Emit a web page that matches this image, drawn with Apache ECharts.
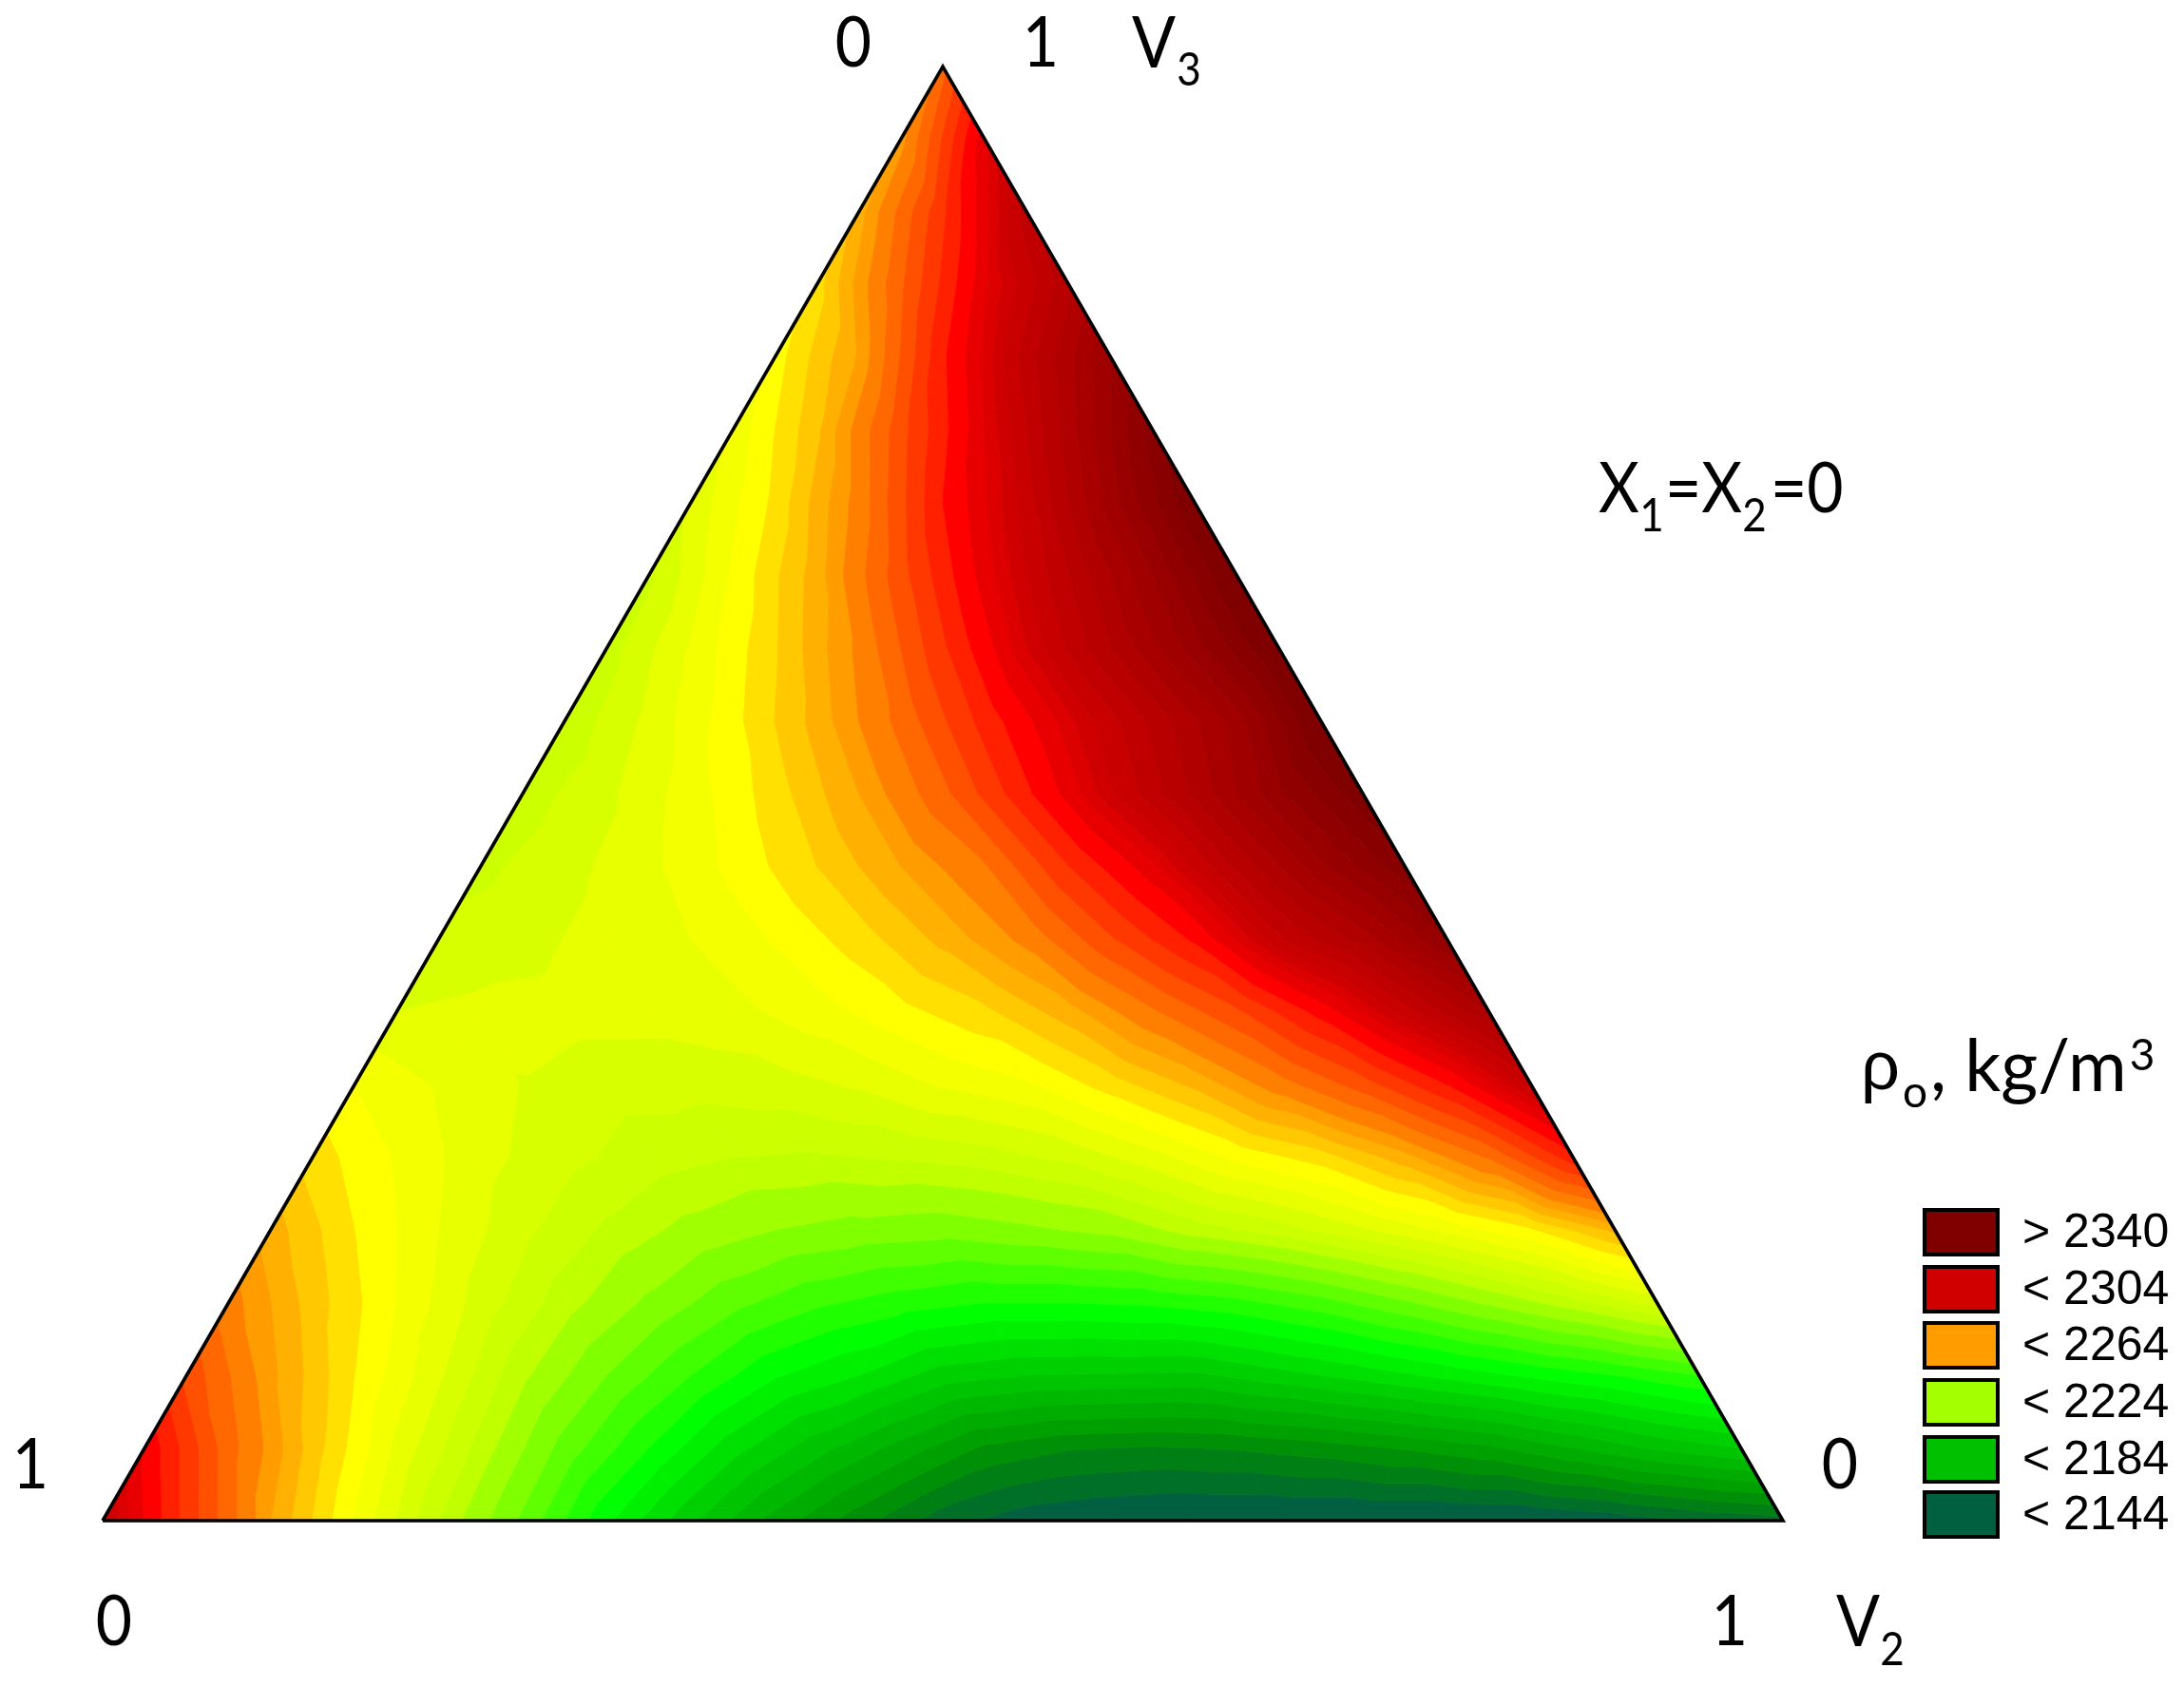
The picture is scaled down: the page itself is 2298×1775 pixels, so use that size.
<!DOCTYPE html>
<html>
<head>
<meta charset="utf-8">
<style>html,body{margin:0;padding:0;background:#fff}#c{width:2298px;height:1775px}</style>
<script src="https://cdn.jsdelivr.net/npm/echarts@6/dist/echarts.min.js"></script>
</head>
<body>
<div id="c"></div>
<script>
// Density on a 20-step simplex grid. Row k has V3 = k/20; entry j has V2 = j/20.
const row0 = [2305,2282,2260,2243.5,2228,2213,2195,2180,2167,2156,2146,2141,2139,2138,2138,2138,2138,2138.5,2141,2144.5,2147];
const row1 = [2293,2271,2254,2239,2226.5,2212,2199,2186,2176,2167,2158,2154.5,2153.5,2154.5,2156.5,2159.5,2163,2169,2174.9,2179];
const row2 = [2277.5,2261,2248,2236.6,2225,2214,2204,2194.6,2189,2181.5,2179,2178.5,2178,2182,2186,2190.5,2195,2199,2204];
const row3 = [2266,2254,2243.8,2234.2,2225.9,2218,2210.5,2205,2201.5,2199,2199,2200,2202.5,2207,2213.3,2220,2226.6,2233.8];
const row4 = [2258,2248,2240,2233,2227.3,2222.5,2219,2217,2216,2218,2220.5,2226,2230,2235.4,2241,2247.3,2257];
const row5 = [2250,2243.5,2237.4,2233.2,2230,2228,2227.5,2228.5,2230,2233,2238.5,2245,2250,2258.4,2269.6,2287];
const row6 = [2244,2239.5,2235.8,2233.5,2233.3,2234.2,2236.6,2240.5,2243.3,2250,2257,2266.6,2276.5,2289,2306];
const row7 = [2236,2237,2237.5,2237.5,2238.7,2242.3,2246.7,2251,2258.2,2268.2,2278,2291,2306,2320];
const row8 = [2233,2234.5,2237.7,2240,2244.4,2250,2257.2,2265.5,2278.4,2290,2307,2318,2332];
const row9 = [2231,2234.5,2239,2245,2252,2260,2268.5,2284,2297,2313,2327,2339];
const row10 = [2230,2235,2242,2250,2260,2272.5,2288,2303.5,2317,2331,2343];
const row11 = [2229,2237,2246.6,2257.5,2270.6,2286,2300,2313,2326,2345];
const row12 = [2230,2240.5,2251.5,2265,2283,2301,2316,2330,2345];
const row13 = [2231,2244.5,2258,2277,2296,2312,2328,2345];
const row14 = [2237,2249,2266,2289,2306,2326,2344];
const row15 = [2241,2255,2277,2298,2318,2338];
const row16 = [2246,2260.5,2288,2310,2328];
const row17 = [2250,2273,2297,2315];
const row18 = [2258,2283,2310];
const row19 = [2262,2297];
const row20 = [2272];
const densityRows = [row0,row1,row2,row3,row4,row5,row6,row7,row8,row9,row10,row11,row12,row13,row14,row15,row16,row17,row18,row19,row20];

// Contour bands: upper bound of each band and its colour; the last band has no upper bound.
const bandUpper = [2144,2149,2154,2159,2164,2169,2174,2179,2184,2189,2194,2199,2204,2209,2214,2219,2224,2228,2232,2236,2240,2244,2248,2252,2256,2260,2264,2269,2274,2279,2284,2289,2294,2298,2301,2304,2308,2312,2316,2320,2324,2328,2332,2336,2340,Infinity];
const bandColors = ['#006040','#007028','#008014','#009008','#00a000','#00ac00','#00b800','#00c400','#00d000','#00e000','#00f000','#00ff00','#20ff00','#40ff00','#60ff00','#80ff00','#a0ff00','#c0ff00','#ccff00','#d8ff00','#e8ff00','#f4ff00','#ffff00','#ffe000','#ffc800','#ffb000','#ff9c00','#ff8000','#ff6800','#ff5000','#ff3800','#ff2000','#ff0000','#e80000','#dc0000','#d00000','#c80000','#c00000','#b80000','#b00000','#a80000','#a00000','#980000','#900000','#880000','#800000'];

// Legend and captions
const legendLabels = ['> 2340','< 2304','< 2264','< 2224','< 2184','< 2144'];
const legendColors = ['#800000','#d00000','#ff9c00','#a4ff00','#00c000','#006040'];
const legendTitle = ['\u03c1','o',', kg/m','3'];
const conditionText = ['X','1','=X','2','=0'];

const N = densityRows.length - 1;
const triangles = [];
for (let k = 0; k < N; k++) {
  for (let j = 0; j < N - k; j++) {
    triangles.push([k, j, k, j + 1, k + 1, j]);
    if (j < N - k - 1) triangles.push([k, j + 1, k + 1, j + 1, k + 1, j]);
  }
}
function node(k, j) {
  const v3 = k / N, v2 = j / N;
  return {x: v2 + v3 / 2, y: v3, v: densityRows[k][j]};
}
function clip(poly, level, keepAbove) {
  const out = [];
  for (let i = 0; i < poly.length; i++) {
    const a = poly[i], b = poly[(i + 1) % poly.length];
    const ina = keepAbove ? a.v >= level : a.v <= level;
    const inb = keepAbove ? b.v >= level : b.v <= level;
    if (ina) out.push(a);
    if (ina !== inb) {
      const t = (level - a.v) / (b.v - a.v);
      out.push({x: a.x + (b.x - a.x) * t, y: a.y + (b.y - a.y) * t, v: level});
    }
  }
  return out;
}
function renderTriangle(params, api) {
  const t = triangles[params.dataIndex];
  const base = [node(t[0], t[1]), node(t[2], t[3]), node(t[4], t[5])];
  const children = [];
  let lo = -Infinity;
  for (let b = 0; b < bandUpper.length; b++) {
    const hi = bandUpper[b];
    let poly = base;
    if (lo > -Infinity) poly = clip(poly, lo, true);
    if (poly.length && hi < Infinity) poly = clip(poly, hi, false);
    if (poly.length >= 3) {
      children.push({
        type: 'polygon',
        shape: {points: poly.map(p => api.coord([p.x, p.y]))},
        style: {fill: bandColors[b], stroke: bandColors[b], lineWidth: 0.9},
        silent: true
      });
    }
    lo = hi;
  }
  return {type: 'group', children};
}

const font = 'Lato';
const big = 66, sub = 44;
function txt(s, x, y, size, fam, align, sy) {
  return {type: 'text', x, y, scaleY: sy || 1, silent: true, z: 20, style: {text: s, fontSize: size, fontFamily: fam || font, fill: '#000', textAlign: align || 'center', textVerticalAlign: 'middle'}};
}
const gfx = [
  txt('0', 898, 46.5, big, font, 'center', 1.12), txt('1', 1095, 46.5, big, font, 'center', 1.12),
  txt('V', 1214, 46.5, 68, font, 'center', 1.12), txt('3', 1251, 74.5, sub, font, 'center', 1.12),
  txt('1', 32, 1542, big, font, 'center', 1.12), txt('0', 1936, 1542, big, font, 'center', 1.12),
  txt('0', 120, 1707, big, font, 'center', 1.12), txt('1', 1820, 1707, big, font, 'center', 1.12),
  txt('V', 1955, 1707, 68, font, 'center', 1.12), txt('2', 1991, 1736, sub, font, 'center', 1.12),
  txt(conditionText[0], 1682, 515, big, font, 'left', 1.12),
  txt(conditionText[1], 1738, 543, sub, font, 'center', 1.12),
  txt(conditionText[2], 1752, 515, big, font, 'left', 1.12),
  txt(conditionText[3], 1846, 543, sub, font, 'center', 1.12),
  txt(conditionText[4], 1863, 515, big, font, 'left', 1.12),
  txt(legendTitle[0], 1958, 1126, 72, 'Liberation Sans', 'left'),
  txt(legendTitle[1], 2002, 1150, 46, font, 'left'),
  txt(legendTitle[2], 2031, 1124, 75, font, 'left'),
  txt(legendTitle[3], 2254, 1111, 46, font, 'center')
];
const swatchTops = [1271, 1331, 1390, 1450, 1510, 1568];
legendLabels.forEach((s, i) => {
  gfx.push({type: 'rect', silent: true, z: 20, shape: {x: 2025, y: swatchTops[i] + 2, width: 77, height: 47},
    style: {fill: legendColors[i], stroke: '#000', lineWidth: 4}});
  gfx.push(txt(s, 2128, swatchTops[i] + 27, 50, 'Liberation Sans', 'left'));
});

const chart = echarts.init(document.getElementById('c'), null, {renderer: 'canvas'});
chart.setOption({
  animation: false,
  backgroundColor: '#fff',
  grid: {left: 108, top: 70, width: 1768, height: 1530},
  xAxis: {type: 'value', min: 0, max: 1, show: false},
  yAxis: {type: 'value', min: 0, max: 1, show: false},
  graphic: gfx,
  series: [
    {type: 'custom', clip: false, silent: true, z: 2, data: triangles.map((t, i) => [i]), encode: {x: -1, y: -1}, renderItem: renderTriangle},
    {type: 'line', silent: true, z: 5, symbol: 'none', clip: false, animation: false,
      lineStyle: {color: '#000', width: 3.6, join: 'miter'},
      data: [[0, 0], [1, 0], [0.5, 1], [0, 0]]}
  ]
});
</script>
</body>
</html>
